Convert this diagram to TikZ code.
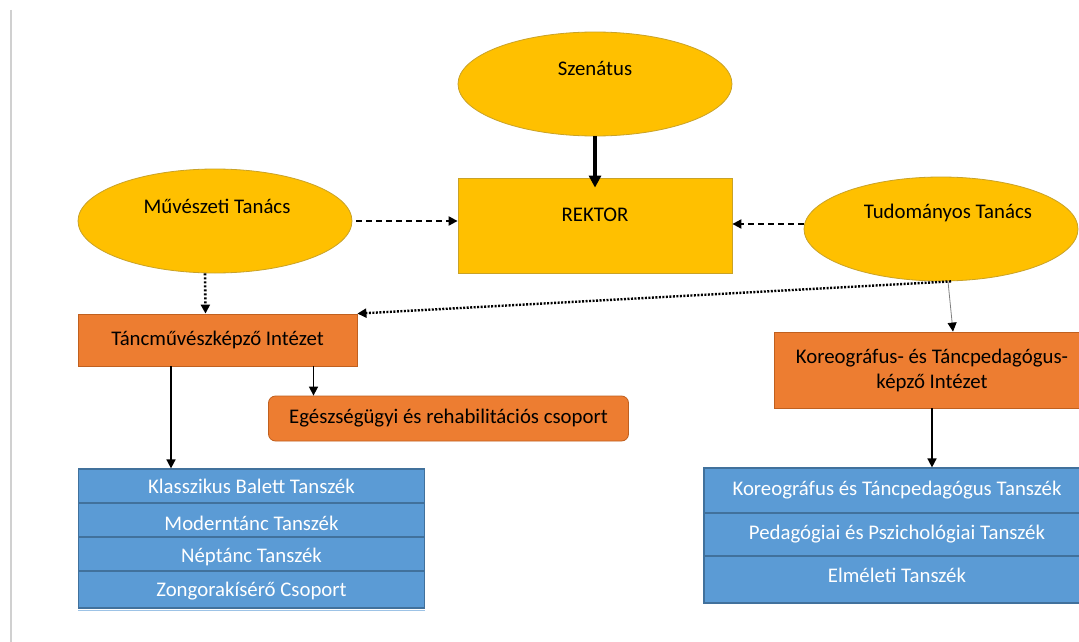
\documentclass[tikz,border=0pt]{standalone}
\usepackage{fontspec}
\setmainfont{Carlito}
\usetikzlibrary{shapes.geometric,arrows.meta,calc}
\definecolor{ylw}{HTML}{FFC000}
\definecolor{ylwb}{HTML}{C9A227}
\definecolor{org}{HTML}{ED7D31}
\definecolor{orgb}{HTML}{C0601F}
\definecolor{blu}{HTML}{5B9BD5}
\definecolor{blub}{HTML}{41719C}
\definecolor{blul}{HTML}{9DC3E6}
\definecolor{gline}{HTML}{D0D0D0}
\tikzset{
  ell/.style={ellipse, fill=ylw, draw=ylwb, line width=0.8pt, minimum width=274pt, minimum height=104pt, inner sep=0pt},
  ybox/.style={rectangle, fill=ylw, draw=ylwb, line width=0.8pt, inner sep=0pt},
  obox/.style={rectangle, fill=org, draw=orgb, line width=0.8pt, inner sep=0pt, align=center},
  rbox/.style={rectangle, rounded corners=7pt, fill=org, draw=orgb, line width=0.8pt, inner sep=0pt},
  brow/.style={rectangle, fill=blu, draw=blub, line width=1.2pt, inner sep=0pt, text=white},
  lbl/.style={inner sep=0pt},
  tip/.style={-{Triangle[length=9pt,width=9pt]}},
  dashedarrow/.style={tip, line width=2pt, dash pattern=on 6pt off 4pt},
  dottedarrow/.style={tip, line width=2.6pt, dash pattern=on 2pt off 2pt},
  solidarrow/.style={tip, line width=1.6pt},
}
\begin{document}
\begin{tikzpicture}[x=1pt,y=-1pt,font=\fontsize{20.8}{25}\selectfont]
\useasboundingbox (0,0) rectangle (1079,642);
\clip (0,0) rectangle (1079,642);
\fill[white] (0,0) rectangle (1079,642);
\draw[gline, line width=1.5pt] (11,10) -- (11,642);

% top
\node[ell] (szen) at (595,84) {};
\node[lbl] (szent) at (595,68) {Szenátus};
\node[ybox, minimum width=274pt, minimum height=95pt] (rektor) at (595,225.5) {};
\node[lbl] (rektort) at (595,215) {REKTOR};
\node[ell] (muv) at (215,221) {};
\node[lbl] (muvt) at (217,206) {Művészeti Tanács};
\node[ell] (tud) at (941,229) {};
\node[lbl] (tudt) at (948,213) {Tudományos Tanács};

% institutes
\node[obox, minimum width=279pt, minimum height=52pt] (tanc) at (217.5,340) {Táncművészképző Intézet};
\node[obox, minimum width=316pt, minimum height=76pt] (kor) at (932,370) {Koreográfus- és Táncpedagógus-\\képző Intézet};
\node[rbox, minimum width=360pt, minimum height=45pt] (eg) at (448.5,418.5) {Egészségügyi és rehabilitációs csoport};

% left table
\node[brow, minimum width=346pt, minimum height=34pt] (k1) at (251.5,486) {Klasszikus Balett Tanszék};
\node[brow, minimum width=346pt, minimum height=34pt, text height=20.6pt, text depth=0pt] (k2) at (251.5,520) {Moderntánc Tanszék};
\node[brow, minimum width=346pt, minimum height=34pt, text height=20pt, text depth=2.2pt] (k3) at (251.5,554) {Néptánc Tanszék};
\node[brow, minimum width=346pt, minimum height=37pt, text height=18pt, text depth=4.2pt] (k4) at (251.5,589.5) {Zongorakísérő Csoport};
\draw[blul, line width=1pt] ([yshift=-1.8pt]k4.south west) -- ([yshift=-1.8pt]k4.south east);

% right table
\node[brow, minimum width=386pt, minimum height=45pt] (r1) at (897,490.5) {Koreográfus és Táncpedagógus Tanszék};
\node[brow, minimum width=386pt, minimum height=43pt] (r2) at (897,534.5) {Pedagógiai és Pszichológiai Tanszék};
\node[brow, minimum width=386pt, minimum height=47pt, text height=15pt, text depth=8.4pt] (r3) at (897,579.5) {Elméleti Tanszék};

% connectors
\draw[line width=3.5pt, -{Triangle[length=12pt,width=12pt]}] (szen) -- ([yshift=-10pt]rektor.north);
\draw[dashedarrow, shorten <=4pt] (muv.east) -- ([yshift=4.5pt]rektor.west);
\draw[dashedarrow] ([yshift=5pt]tud.west) -- ([yshift=1.5pt]rektor.east);
\draw[dottedarrow] ([xshift=-10pt]muv.south) -- ([xshift=-12pt]tanc.north);
\draw[tip, line width=2.4pt, dash pattern=on 2pt off 1.5pt] ([xshift=10pt]tud.south) -- (tanc.north east);
\draw[gray, line width=0.8pt, -{Triangle[length=9pt,width=9pt,fill=black,color=black]}] ([xshift=7pt]tud.south) -- ([xshift=21pt]kor.north);
\draw[solidarrow] (kor.south) -- (kor.south |- r1.north);
\coordinate (a1) at ([xshift=-46.5pt]tanc.south);
\coordinate (a2) at ([xshift=96pt]tanc.south);
\draw[solidarrow] (a1) -- (a1 |- k1.north);
\draw[solidarrow] (a2) -- (a2 |- eg.north);
\end{tikzpicture}
\end{document}
